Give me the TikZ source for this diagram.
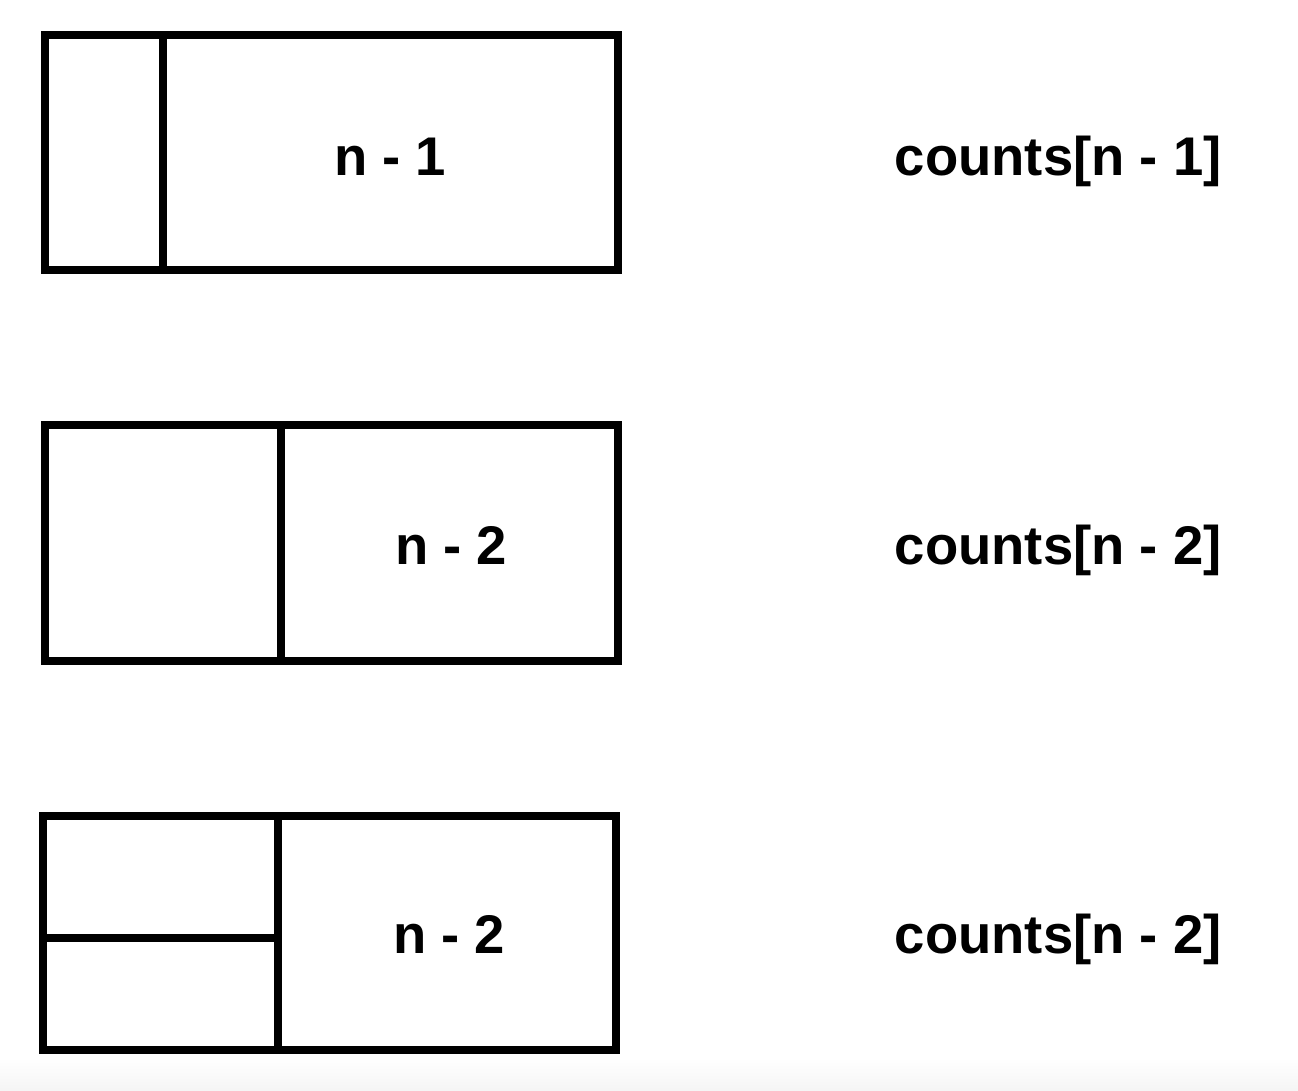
\documentclass[tikz,border=0pt]{standalone}
\usepackage{fontspec}
\setmainfont{Liberation Sans}

\begin{document}
\begin{tikzpicture}[x=0.02cm,y=-0.02cm,line width=4.4pt,
  txt/.style={inner sep=0pt,font=\bfseries\fontsize{31}{36}\selectfont}]
\useasboundingbox (0,0) rectangle (1298,1090);
\shade[top color=white,bottom color=black!4,line width=0pt] (0,1058) rectangle (1298,1090);
% first row
\draw (45,35) rectangle (618,270);
\draw (163,35) -- (163,270);
\node (a) [txt,anchor=base] at (390,175) {n - 1};
\node (ca) [txt,anchor=base west] at (891,175) {counts[n - 1]};
% second row
\draw (45,425) rectangle (618,661);
\draw (281,425) -- (281,661);
\node (b) [txt,anchor=base] at (451,564) {n - 2};
\node (cb) [txt,anchor=base west] at (891,564) {counts[n - 2]};
% third row
\draw (43,816) rectangle (616,1050);
\draw (278,816) -- (278,1050);
\draw (43,938) -- (278,938);
\node (c) [txt,anchor=base] at (449,953) {n - 2};
\node (cc) [txt,anchor=base west] at (891,953) {counts[n - 2]};
\end{tikzpicture}
\end{document}
